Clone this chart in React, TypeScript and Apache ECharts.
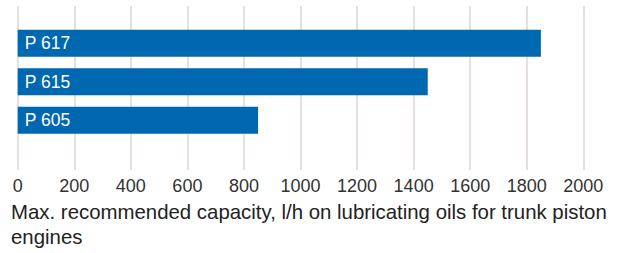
import React, { useEffect, useRef } from "react";
import * as echarts from "echarts";

const categories = ["P 617", "P 615", "P 605"];
const values = [1850, 1450, 850];
const xTicks = { min: 0, max: 2000, interval: 200 };
const caption = "Max. recommended capacity, l/h on lubricating oils for trunk piston engines";

export default function App() {
  const ref = useRef<HTMLDivElement>(null);
  useEffect(() => {
    if (!ref.current) return;
    const chart = echarts.init(ref.current, null, { renderer: "svg" });
    const font = "'Liberation Sans', Arial, Helvetica, sans-serif";
    chart.setOption({
      animation: false,
      grid: [
        { left: 17.7, right: 49.7, top: 6, height: 164 },
        { left: 17.7, right: 49.7, top: 24, height: 115.5 },
      ],
      xAxis: [
        {
          gridIndex: 0,
          type: "value",
          min: xTicks.min,
          max: xTicks.max,
          interval: xTicks.interval,
          axisLine: { show: false },
          axisTick: { show: false },
          axisLabel: {
            color: "#333",
            fontSize: 18,
            fontFamily: font,
            margin: 7,
            formatter: (v: number) => String(v),
          },
          splitLine: { show: true, lineStyle: { color: "#e0d6d0", width: 1.5 } },
        },
        {
          gridIndex: 1,
          type: "value",
          min: xTicks.min,
          max: xTicks.max,
          show: false,
          splitLine: { show: false },
        },
      ],
      yAxis: [
        { gridIndex: 0, type: "category", data: categories, show: false },
        {
          gridIndex: 1,
          type: "category",
          data: categories,
          inverse: true,
          show: false,
        },
      ],
      series: [
        {
          type: "bar",
          xAxisIndex: 1,
          yAxisIndex: 1,
          data: values,
          barWidth: 27,
          itemStyle: { color: "#0067b1" },
          label: {
            show: true,
            position: "insideLeft",
            distance: 7,
            formatter: (p: any) => p.name,
            color: "#fff",
            fontSize: 17.5,
            fontFamily: font,
          },
        },
      ],
      graphic: [
        {
          type: "text",
          left: 11,
          top: 199,
          style: {
            text: caption,
            width: 618,
            overflow: "break",
            fill: "#222",
            fontSize: 20.4,
            lineHeight: 25,
            fontFamily: font,
          },
        },
      ],
    });
    return () => chart.dispose();
  }, []);
  return (
    <div
      ref={ref}
      style={{ position: "fixed", left: 0, top: 0, width: 633, height: 253, background: "#fff" }}
    />
  );
}
